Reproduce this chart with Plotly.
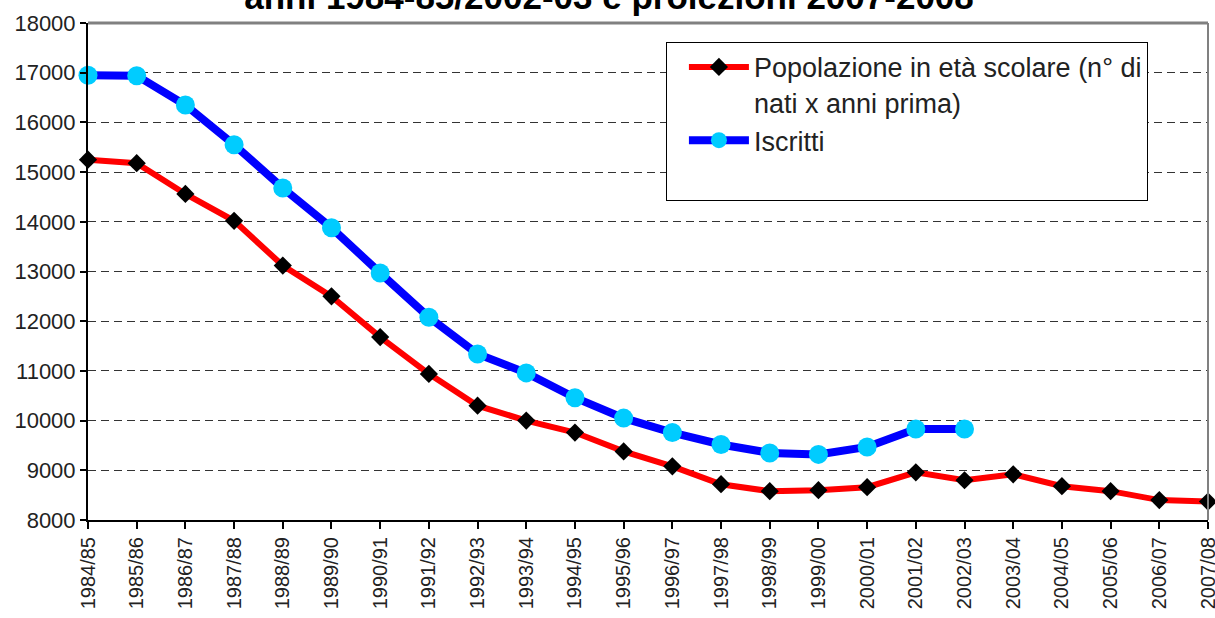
import plotly.graph_objects as go

anni = ["1984/85","1985/86","1986/87","1987/88","1988/89","1989/90","1990/91","1991/92",
        "1992/93","1993/94","1994/95","1995/96","1996/97","1997/98","1998/99","1999/00",
        "2000/01","2001/02","2002/03","2003/04","2004/05","2005/06","2006/07","2007/08"]
popolazione = [15250,15180,14560,14020,13120,12500,11680,10940,10300,10000,9760,9380,
               9080,8720,8580,8600,8660,8960,8800,8920,8680,8580,8400,8370]
iscritti = [16950,16940,16350,15550,14680,13880,12970,12080,11340,10960,10460,10050,
            9760,9520,9350,9320,9470,9830,9830,None,None,None,None,None]

fig = go.Figure()
fig.add_trace(go.Scatter(
    x=anni, y=popolazione, mode="lines+markers",
    name="Popolazione in età scolare (n° di<br>nati x anni prima)",
    line=dict(color="#ff0000", width=6),
    marker=dict(symbol="diamond", color="black", size=14),
    cliponaxis=False))
fig.add_trace(go.Scatter(
    x=anni, y=iscritti, mode="lines+markers", name="Iscritti<br> ",
    line=dict(color="#0000ff", width=8),
    marker=dict(symbol="circle", color="#00ccff", size=19),
    cliponaxis=False))

fig.update_layout(
    width=1215, height=618,
    paper_bgcolor="white", plot_bgcolor="white",
    margin=dict(l=88, r=7, t=23, b=98),
    font=dict(family="Liberation Sans, Arial, sans-serif", color="black"),
    title=dict(text="<b>anni 1984-85/2002-03 e proiezioni 2007-2008</b>",
               x=609 / 1215, xanchor="center", xref="container",
               y=1 - 9 / 618, yref="container", yanchor="bottom",
               font=dict(size=35, color="black")),
    showlegend=True,
    legend=dict(x=0.516, y=0.962, xanchor="left", yanchor="top",
                bgcolor="white", bordercolor="black", borderwidth=1,
                font=dict(size=27, color="#222"), traceorder="normal",
                valign="top", indentation=17, itemwidth=60),
    xaxis=dict(type="category", range=[0, 23], showgrid=False, automargin=False,
               showline=True, linecolor="black", linewidth=2,
               ticks="outside", ticklen=7, tickwidth=2, tickcolor="black",
               tickangle=-90, tickfont=dict(size=20, color="#222")),
    yaxis=dict(range=[8000, 18000], dtick=1000, tickformat="d", showgrid=True,
               automargin=False,
               gridcolor="#333", griddash="8px,5px", gridwidth=1.2,
               showline=True, linecolor="black", linewidth=2,
               ticks="outside", ticklen=6, tickwidth=2, tickcolor="black",
               tickfont=dict(size=22, color="#222"), zeroline=False),
    shapes=[
        dict(type="line", xref="paper", yref="paper", x0=0, x1=1, y0=1, y1=1,
             line=dict(color="#808080", width=3)),
        dict(type="line", xref="paper", yref="paper", x0=1, x1=1, y0=0, y1=1,
             line=dict(color="#808080", width=2)),
    ],
)

fig.write_html("out.html", config={"displayModeBar": False},
               post_script="document.body.style.margin='0';document.body.style.overflow='hidden';")
